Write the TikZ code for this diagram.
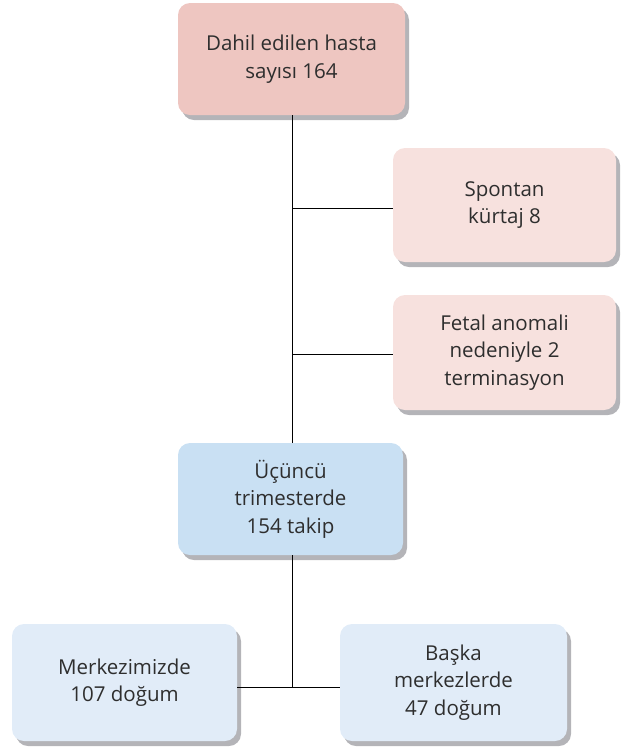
\documentclass[tikz,border=0pt]{standalone}
\usepackage{fontspec}
\setmainfont{Open Sans}
\usetikzlibrary{shadows}
\definecolor{topred}{HTML}{EEC6C1}
\definecolor{lightred}{HTML}{F7E1DE}
\definecolor{midblue}{HTML}{C9E0F3}
\definecolor{lightblue}{HTML}{E1ECF8}
\definecolor{txt}{HTML}{2E2E2E}
\definecolor{shade}{HTML}{B4B4B8}
\tikzset{
  x=1pt, y=-1pt,
  fbox/.style={rounded corners=12pt, draw=none, align=center, text=txt,
    font=\fontsize{20.5}{27.5}\selectfont, inner sep=0pt,
    drop shadow={shadow xshift=4pt, shadow yshift=-5pt, fill=shade, opacity=1}},
  link/.style={draw=black, line width=0.9pt}
}
\begin{document}
\begin{tikzpicture}
\useasboundingbox (0,0) rectangle (623,748);
\node[fbox, fill=topred, minimum width=227pt, minimum height=112pt] (a) at (291.5,59) {Dahil edilen hasta\\sayısı 164};
\node[fbox, fill=lightred, minimum width=223pt, minimum height=114pt] (b) at (504.5,205) {Spontan\\kürtaj 8};
\node[fbox, fill=lightred, minimum width=223pt, minimum height=115pt] (c) at (504.5,352.5) {Fetal anomali\\nedeniyle 2\\terminasyon};
\node[fbox, fill=midblue, minimum width=225pt, minimum height=112pt] (d) at (290.5,499) {Üçüncü\\trimesterde\\154 takip};
\node[fbox, fill=lightblue, minimum width=225pt, minimum height=117pt] (e) at (124.5,682.5) {Merkezimizde\\107 doğum};
\node[fbox, fill=lightblue, minimum width=227pt, minimum height=117pt] (f) at (453.5,682.5) {Başka\\merkezlerde\\47 doğum};
\coordinate (j1) at (292,208);
\coordinate (j2) at (292,354);
\coordinate (j3) at (292,687);
\draw[link] (a.south -| j1) -- (d.north -| j1);
\draw[link] (j1) -- (j1 -| b.west);
\draw[link] (j2) -- (j2 -| c.west);
\draw[link] (d.south -| j3) -- (j3);
\draw[link] (j3 -| e.east) -- (j3 -| f.west);
\end{tikzpicture}
\end{document}
